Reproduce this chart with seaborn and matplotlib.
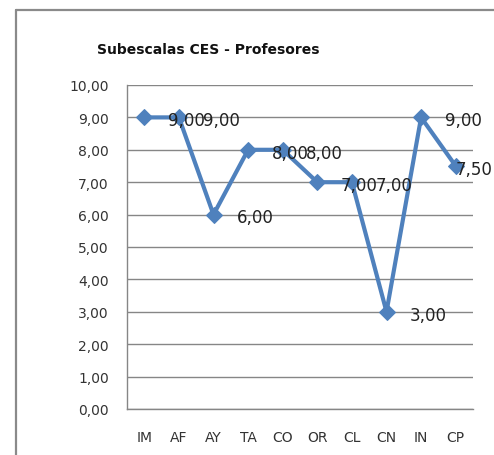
import matplotlib
matplotlib.use("Agg")
import matplotlib.pyplot as plt
import seaborn as sns
import pandas as pd
from matplotlib.lines import Line2D

categories = ["IM", "AF", "AY", "TA", "CO", "OR", "CL", "CN", "IN", "CP"]
values = [9.00, 9.00, 6.00, 8.00, 8.00, 7.00, 7.00, 3.00, 9.00, 7.50]
title = "Subescalas CES - Profesores"
yticks = [0, 1, 2, 3, 4, 5, 6, 7, 8, 9, 10]

df = pd.DataFrame({"cat": categories, "val": values})

sns.set_style("white")
plt.rcParams["font.family"] = ["DejaVu Sans"]

W, H = 494, 456
fig = plt.figure(figsize=(W / 100, H / 100), dpi=100)
fig.patch.set_facecolor("white")
ax = fig.add_axes([127 / W, 1 - 410 / H, (473 - 127) / W, (410 - 86) / H])

blue = "#4F81BD"
sns.lineplot(data=df, x="cat", y="val", ax=ax, color=blue, linewidth=3,
             marker="D", markersize=8.5, markeredgecolor=blue, sort=False,
             zorder=3)

ax.set_xlim(-0.5, len(categories) - 0.5)
ax.set_ylim(0, 10)
ax.set_yticks(yticks)
ax.set_yticklabels([f"{v:.2f}".replace(".", ",") for v in yticks])
ax.yaxis.grid(True, color="#868686", linewidth=1)
ax.set_axisbelow(True)

ax.set_xticks(range(len(categories)))
ax.set_xticklabels(categories)
ax.set_xticks([i - 0.5 for i in range(len(categories) + 1)], minor=True)
ax.tick_params(axis="x", which="major", length=0, pad=15, labelsize=10,
               colors="#333333")
ax.tick_params(axis="x", which="minor", length=5, width=1, color="#868686",
               direction="out")
ax.tick_params(axis="y", which="major", length=5, width=1, color="#868686",
               direction="out", labelsize=10, labelcolor="#333333", pad=8)

for s in ["top", "right"]:
    ax.spines[s].set_visible(False)
for s in ["left", "bottom"]:
    ax.spines[s].set_color("#868686")
    ax.spines[s].set_linewidth(1)

ax.set_xlabel("")
ax.set_ylabel("")

n = len(values)
for i, v in enumerate(values):
    dx = 17 if i < n - 1 else 0
    ax.annotate(f"{v:.2f}".replace(".", ","), (i, v), xytext=(dx, -2),
                textcoords="offset points", ha="left", va="center",
                fontsize=12, color="#222222", annotation_clip=False,
                zorder=4)

fig.text(97 / W, 1 - 50 / H, title, fontsize=10, fontweight="bold",
         ha="left", va="center", color="#111111")

# chart frame
fx = 16 / W
fy = 1 - 10.5 / H
fig.add_artist(Line2D([fx, fx], [0, fy], transform=fig.transFigure,
                      color="#8a8a8a", linewidth=1.6))
fig.add_artist(Line2D([fx, 1], [fy, fy], transform=fig.transFigure,
                      color="#8a8a8a", linewidth=1.6))

fig.savefig("out.png", dpi=100)
